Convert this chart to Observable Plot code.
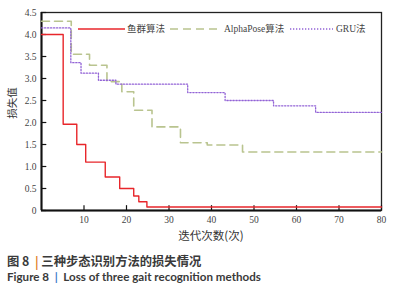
<!DOCTYPE html>
<html><head><meta charset="utf-8">
<script src="https://cdn.jsdelivr.net/npm/d3@7"></script>
<script src="https://cdn.jsdelivr.net/npm/@observablehq/plot@0.6"></script>
<style>
body{margin:0;background:#fff;width:396px;height:300px;overflow:hidden;font-family:"Liberation Serif",serif}
#wrap{position:relative;width:396px;height:245px}
#legend{position:absolute;left:0;top:0}
.cap1{position:absolute;left:7px;top:252px;font-family:"Noto Sans CJK SC",sans-serif;font-weight:700;font-size:12.3px;color:#3a3a3a;white-space:nowrap}
.cap2{position:absolute;left:7px;top:270px;font-family:Lato,sans-serif;font-weight:700;font-size:11.6px;color:#3a3a3a;white-space:nowrap}
.bar1{color:#e07b2a;font-weight:700}
.bar2{color:#3d7cc9;font-weight:700}
</style></head>
<body>
<div id="wrap"></div>
<div class="cap1">图 8 &nbsp;<span class="bar1">|</span>&nbsp;三种步态识别方法的损失情况</div>
<div class="cap2">Figure 8 &nbsp;<span class="bar2">|</span>&nbsp; Loss of three gait recognition methods</div>
<script>
// Series data: step change points (x) and loss values (y)
const seriesNames = ["鱼群算法", "AlphaPose算法", "GRU法"];
const fishX = [0, 5.1, 8.3, 10.4, 15.0, 18.4, 21.7, 22.9, 24.8, 80];
const fishY = [4.0, 1.96, 1.5, 1.1, 0.76, 0.5, 0.33, 0.2, 0.08, 0.08];
const alphaX = [0, 7.0, 11.3, 15.4, 18.9, 21.7, 26.0, 32.7, 39.0, 47.3, 80];
const alphaY = [4.3, 3.55, 3.3, 2.93, 2.7, 2.28, 1.9, 1.54, 1.49, 1.33, 1.33];
const gruX = [0, 6.9, 9.3, 13.4, 17.5, 34.4, 43.2, 54.6, 64.5, 80];
const gruY = [4.15, 3.36, 3.12, 2.96, 2.87, 2.68, 2.5, 2.38, 2.23, 2.23];
const xTicks = [10, 20, 30, 40, 50, 60, 70, 80];
const yTicks = [0, 0.5, 1.0, 1.5, 2.0, 2.5, 3.0, 3.5, 4.0, 4.5];
const xLabel = "迭代次数(次)";
const yLabel = "损失值";

const colors = ["#e8262b", "#b9c48f", "#9263d6"];
const toRows = (xs, ys) => xs.map((x, i) => ({x, y: ys[i]}));
const fish = toRows(fishX, fishY), alpha = toRows(alphaX, alphaY), gru = toRows(gruX, gruY);

const serif = "'Liberation Serif', serif";
const chart = Plot.plot({
  width: 396, height: 245,
  marginLeft: 41, marginRight: 15, marginTop: 12, marginBottom: 35,
  style: {fontFamily: serif, fontSize: "9px", color: "#333", background: "transparent"},
  x: {domain: [0, 80]},
  y: {domain: [0, 4.5]},
  marks: [
    Plot.frame({stroke: "#222", strokeWidth: 1.3}),
    Plot.ruleX([0], {stroke: "#111", strokeWidth: 2}),
    Plot.ruleY([0], {stroke: "#111", strokeWidth: 2}),
    Plot.ruleX(xTicks, {y1: 0, y2: 0.11, stroke: "#111", strokeWidth: 1.2}),
    Plot.ruleY(yTicks, {x1: 0, x2: 1.25, stroke: "#111", strokeWidth: 1.2}),
    Plot.axisX(xTicks, {tickSize: 0, tickPadding: 6, label: null, fontSize: 9.5, fontFamily: serif, fill: "#444"}),
    Plot.axisY(yTicks, {tickSize: 0, tickPadding: 5, label: null, fontSize: 9.5, fontFamily: serif, fill: "#444",
      tickFormat: d => d === 0 ? "0" : d.toFixed(1)}),
    Plot.line(alpha, {x: "x", y: "y", curve: "step-after", stroke: colors[1], strokeWidth: 1.6, strokeDasharray: "8,5"}),
    Plot.line(gru, {x: "x", y: "y", curve: "step-after", stroke: colors[2], strokeWidth: 1.3, strokeDasharray: "1.3,1.7"}),
    Plot.line(fish, {x: "x", y: "y", curve: "step-after", stroke: colors[0], strokeWidth: 1.4})
  ]
});
d3.select(chart).selectAll("text").style("font-family", serif);
document.getElementById("wrap").appendChild(chart);

// axis titles and in-plot legend overlay
const ov = d3.select("#wrap").append("svg").attr("id", "legend")
  .attr("width", 396).attr("height", 245);
ov.append("text").attr("transform", "translate(11,103) rotate(-90)")
  .attr("text-anchor", "middle").attr("dominant-baseline", "central")
  .style("font-family", "'Noto Sans CJK SC',sans-serif").style("font-size", "10.5px").attr("fill", "#333")
  .text(yLabel);
ov.append("text").attr("x", 211).attr("y", 235)
  .attr("text-anchor", "middle").attr("dominant-baseline", "central")
  .style("font-family", "'Noto Sans CJK SC',sans-serif").style("font-size", "11.5px").attr("fill", "#333")
  .text(xLabel);
const leg = [
  {x1: 78, x2: 125, tx: 127, dash: null, w: 1.3},
  {x1: 170, x2: 222, tx: 224, dash: "8,5", w: 1.6},
  {x1: 290, x2: 333, tx: 336, dash: "1.3,1.7", w: 1.3}
];
leg.forEach((l, i) => {
  ov.append("line").attr("x1", l.x1).attr("x2", l.x2).attr("y1", 29).attr("y2", 29)
    .attr("stroke", colors[i]).attr("stroke-width", l.w).attr("stroke-dasharray", l.dash);
  ov.append("text").attr("x", l.tx).attr("y", 29).attr("dominant-baseline", "central")
    .style("font-family", "'Liberation Serif','Noto Sans CJK SC',serif").style("font-size", "9.5px").attr("fill", "#444")
    .text(seriesNames[i]);
});
</script>
</body></html>
